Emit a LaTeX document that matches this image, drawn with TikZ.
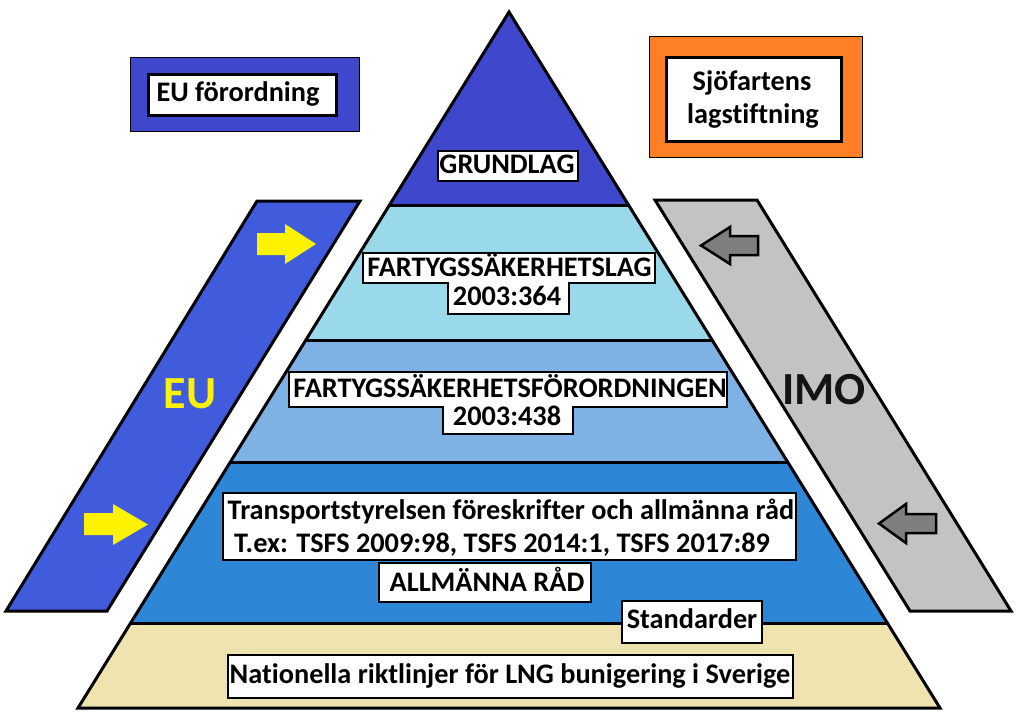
\documentclass[tikz,border=0pt]{standalone}
\usepackage{fontspec}
\setmainfont[Ligatures={NoCommon}]{Carlito}
\definecolor{toplayer}{RGB}{63,72,204}
\definecolor{layertwo}{RGB}{153,217,234}
\definecolor{layerthree}{RGB}{127,178,228}
\definecolor{layerfour}{RGB}{46,134,214}
\definecolor{layerfive}{RGB}{239,228,176}
\definecolor{eublue}{RGB}{64,91,220}
\definecolor{boxblue}{RGB}{63,72,204}
\definecolor{bandgray}{RGB}{195,195,195}
\definecolor{arrowgray}{RGB}{127,127,127}
\definecolor{orangec}{RGB}{255,127,39}
\definecolor{yellowc}{RGB}{255,242,0}
\definecolor{imotext}{RGB}{20,20,20}
\begin{document}
\begin{tikzpicture}[x=1pt,y=-1pt,
  lbl/.style={font=\bfseries\fontsize{28.3}{34}\selectfont, anchor=base, inner sep=0pt},
  big/.style={font=\bfseries\fontsize{46}{50}\selectfont, inner sep=0pt},
  wbox/.style={draw=black, fill=white, line width=1.3pt},
  thick edge/.style={draw=black, line width=3pt},
  band/.style={draw=black, line width=3pt, line join=miter},
  outerbox/.style={draw=black, line width=1pt},
  innerbox/.style={draw=black, fill=white, line width=3pt}]
\useasboundingbox (0,0) rectangle (1016,721);

% side bands
\path[band, fill=eublue] (257,201) -- (360,201) -- (107,611) -- (6,611) -- cycle;
\path[band, fill=bandgray] (655,200) -- (757,200) -- (1011,611) -- (910,611) -- cycle;

% yellow arrows
\fill[yellowc] (257,233) -- (285,233) -- (285,224) -- (316,244) -- (285,264) -- (285,255) -- (257,255) -- cycle;
\fill[yellowc] (84,513) -- (113,513) -- (113,504) -- (148,524.5) -- (113,545) -- (113,535) -- (84,535) -- cycle;

% gray arrows
\filldraw[fill=arrowgray, line width=2.5pt, line join=miter] (701,245.5) -- (730,227) -- (730,236) -- (758,236) -- (758,255) -- (730,255) -- (730,264) -- cycle;
\filldraw[fill=arrowgray, line width=2.5pt, line join=miter] (879,523.5) -- (906,504) -- (906,514) -- (936,514) -- (936,533) -- (906,533) -- (906,543) -- cycle;

% labels on bands
\node[big, text=yellowc] (eu) at (190,394) {EU};
\node[big, text=imotext] (imo) at (824,390) {IMO};

% pyramid layers
\fill[toplayer] (509,12) -- (629.4,205) -- (388.6,205) -- cycle;
\fill[layertwo] (388.6,205) -- (629.4,205) -- (712.8,340) -- (305.2,340) -- cycle;
\fill[layerthree] (305.2,340) -- (712.8,340) -- (788.1,462) -- (229.9,462) -- cycle;
\fill[layerfour] (229.9,462) -- (788.1,462) -- (887.5,623) -- (130.5,623) -- cycle;
\fill[layerfive] (130.5,623) -- (887.5,623) -- (940,708) -- (78,708) -- cycle;
\draw[thick edge] (388.6,205) -- (629.4,205);
\draw[thick edge] (305.2,340) -- (712.8,340);
\draw[thick edge] (229.9,462) -- (788.1,462);
\draw[thick edge] (130.5,623) -- (887.5,623);
\draw[thick edge, line join=miter] (509,12) -- (940,708) -- (78,708) -- cycle;

% top-left box
\filldraw[fill=boxblue, outerbox] (130,57) rectangle (359,131);
\path[innerbox] (148,74) rectangle (336,115);
\node[lbl] (euforordning) at (238,101) {EU förordning};

% top-right box
\filldraw[fill=orangec, outerbox] (649,36) rectangle (862,157);
\path[innerbox] (666,57) rectangle (841,141);
\node[lbl] (sjofartens) at (752,90) {Sjöfartens};
\node[lbl] (lagstiftning) at (753,123) {lagstiftning};

% GRUNDLAG
\path[wbox] (438,151) rectangle (578,181);
\node[lbl] (grundlag) at (507,173) {GRUNDLAG};

% Fartygssakerhetslag
\path[wbox] (363,253) -- (655,253) -- (655,283) -- (569,283) -- (569,314) -- (448,314) -- (448,283) -- (363,283) -- cycle;
\node[lbl] (lag) at (509.5,276) {FARTYGSSÄKERHETSLAG};
\node[lbl] (lagnr) at (507,305) {2003:364};

% Forordningen
\path[wbox] (289,372) -- (727,372) -- (727,407) -- (573,407) -- (573,434) -- (443,434) -- (443,407) -- (289,407) -- cycle;
\node[lbl] (forordning) at (510,397) {FARTYGSSÄKERHETSFÖRORDNINGEN};
\node[lbl] (forordningnr) at (507,425) {2003:438};

% Transportstyrelsen
\path[wbox] (223,493) rectangle (796,560);
\node[lbl] (tsfs) at (511,519) {Transportstyrelsen föreskrifter och allmänna råd};
\node[lbl] (tsfsex) at (502,552) {T.ex: TSFS 2009:98, TSFS 2014:1, TSFS 2017:89};

% Allmanna rad
\path[wbox] (379,563) rectangle (591,602);
\node[lbl] (allmanna) at (487,591) {ALLMÄNNA RÅD};

% Standarder
\path[wbox] (622,601) rectangle (762,643);
\node[lbl] (standarder) at (692,628) {Standarder};

% Nationella
\path[wbox] (228,655) rectangle (793,698);
\node[lbl] (nationella) at (510,683) {Nationella riktlinjer för LNG bunigering i Sverige};
\end{tikzpicture}
\end{document}
